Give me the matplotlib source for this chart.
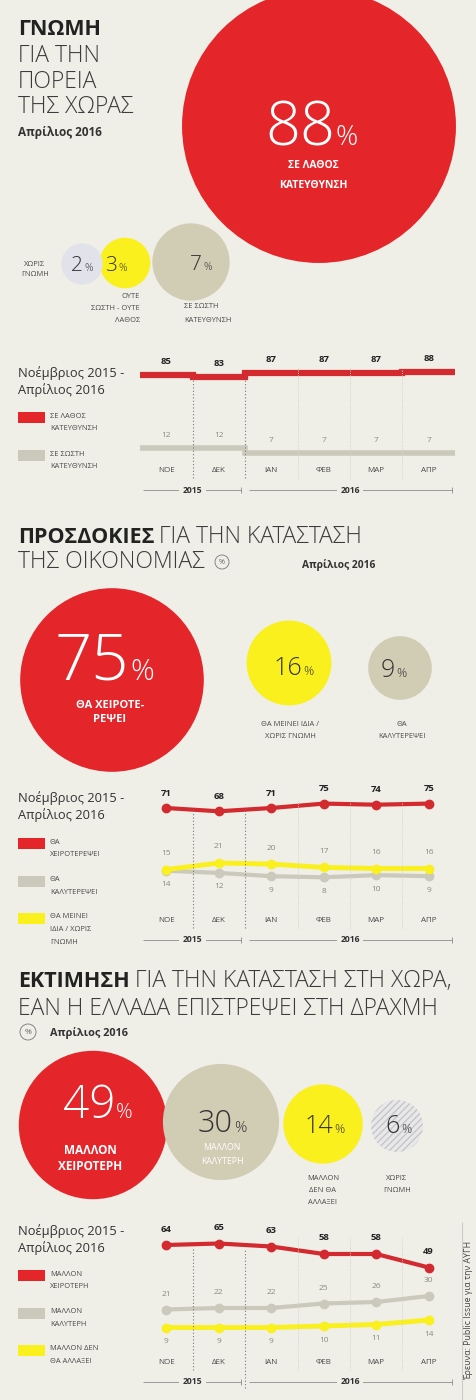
import numpy as np
import matplotlib.pyplot as plt
from matplotlib.patches import Circle, Rectangle

W, H = 477, 1400
plt.rcParams['font.family'] = ['Open Sans', 'DejaVu Sans']

BG = '#EFEEE7'
RED = '#E4252A'
RED_LINE = '#D22A2E'
BEIGE = '#D1CCB4'
GREY_LINE = '#CBC9BC'
YELLOW = '#FAF01E'
DARK = '#222222'
TXT = '#4A4A4A'

# common
months = ['ΝΟΕ', 'ΔΕΚ', 'ΙΑΝ', 'ΦΕΒ', 'ΜΑΡ', 'ΑΠΡ']
years = ['2015', '2016']
period = 'Νοέμβριος 2015 -\nΑπρίλιος 2016'
month_txt = 'Απρίλιος 2016'
source = 'Έρευνα: Public Issue για την ΑΥΓΗ'

# section 1 - direction of the country
s1_values = [88, 7, 3, 2]
s1_labels = ['ΣΕ ΛΑΘΟΣ\nΚΑΤΕΥΘΥΝΣΗ', 'ΣΕ ΣΩΣΤΗ\nΚΑΤΕΥΘΥΝΣΗ', 'ΟΥΤΕ\nΣΩΣΤΗ - ΟΥΤΕ\nΛΑΘΟΣ', 'ΧΩΡΙΣ\nΓΝΩΜΗ']
s1_wrong = [85, 83, 87, 87, 87, 88]
s1_right = [12, 12, 7, 7, 7, 7]

# section 2 - economy expectations
s2_values = [75, 16, 9]
s2_labels = ['ΘΑ ΧΕΙΡΟΤΕ-\nΡΕΨΕΙ', 'ΘΑ ΜΕΙΝΕΙ ΙΔΙΑ /\nΧΩΡΙΣ ΓΝΩΜΗ', 'ΘΑ\nΚΑΛΥΤΕΡΕΨΕΙ']
s2_worse = [71, 68, 71, 75, 74, 75]
s2_same = [15, 21, 20, 17, 16, 16]
s2_better = [14, 12, 9, 8, 10, 9]

# section 3 - return to drachma
s3_values = [49, 30, 14, 6]
s3_labels = ['ΜΑΛΛΟΝ\nΧΕΙΡΟΤΕΡΗ', 'ΜΑΛΛΟΝ\nΚΑΛΥΤΕΡΗ', 'ΜΑΛΛΟΝ\nΔΕΝ ΘΑ\nΑΛΛΑΞΕΙ', 'ΧΩΡΙΣ\nΓΝΩΜΗ']
s3_worse = [64, 65, 63, 58, 58, 49]
s3_better = [21, 22, 22, 25, 26, 30]
s3_same = [9, 9, 9, 10, 11, 14]

BOLD_T, LIGHT_T = 15.5, 16.5

fig = plt.figure(figsize=(W / 100, H / 100), dpi=100)
fig.patch.set_facecolor(BG)
bg = fig.add_axes([0, 0, 1, 1])
bg.set_xlim(0, W)
bg.set_ylim(H, 0)
bg.axis('off')
renderer = fig.canvas.get_renderer()


def lines_text(x, y0, text, dy, **kw):
    for i, line in enumerate(text.split('\n')):
        bg.text(x, y0 + i * dy, line, va='center', **kw)


def bubble(cx, cy, value, k, color, **kw):
    bg.add_patch(Circle((cx, cy), k * np.sqrt(value), facecolor=color, lw=0, **kw))


def pct(x, y, value, size, color, ratio=0.45):
    bg.text(x, y, str(value), fontsize=size, color=color, ha='right', va='baseline', fontweight='light')
    bg.text(x + 1, y, '%', fontsize=size * ratio, color=color, ha='left', va='baseline', fontweight='light')


def title(x, y, bold, rest):
    t = bg.text(x, y, bold, fontsize=BOLD_T, fontweight='bold', color=DARK, va='baseline')
    x1 = t.get_window_extent(renderer).x1
    bg.text(x1 + 5, y, rest, fontsize=LIGHT_T, fontweight='light', color='#3C3C3C', va='baseline')


def light(x, y, text):
    bg.text(x, y, text, fontsize=LIGHT_T, fontweight='light', color='#3C3C3C', va='baseline')


def icon(x, y, r):
    bg.add_patch(Circle((x, y), r, fill=False, lw=0.6, edgecolor='#777777'))
    bg.text(x, y, '%', fontsize=r * 0.75, color='#666666', ha='center', va='center')


def legend(items, y0, dy):
    for i, (color, label) in enumerate(items):
        y = y0 + i * dy
        bg.add_patch(Rectangle((18, y), 27, 11, facecolor=color, lw=0))
        lines_text(50, y + 4, label, 12.5, fontsize=5.4, color=TXT, ha='left')


def chart(top, height, ppu, ref_val, ref_pix):
    ax = fig.add_axes([140 / W, 1 - (top + height) / H, 315 / W, height / H])
    hi = ref_val + (ref_pix - top) / ppu
    ax.set_xlim(-0.5, 5.5)
    ax.set_ylim(hi - height / ppu, hi)
    ax.axis('off')
    ax.patch.set_alpha(0)

    def fy(ypix):
        return (top + height - ypix) / height
    return ax, fy


def frame(ax, fy, div_top, month_y, year_y, long_div=False):
    xt = ax.get_xaxis_transform()
    for xd in [0.5, 1.5]:
        bottom = year_y + 6 if (long_div and xd == 1.5) else month_y + 8
        ax.vlines(xd, fy(bottom), fy(div_top), transform=xt, colors='#777777',
                  linestyles=(0, (1, 2)), lw=0.8)
    for xd in [2.5, 3.5, 4.5]:
        ax.vlines(xd, fy(month_y + 8), fy(div_top - 10), transform=xt, colors='#D4D2C6',
                  linestyles=(0, (1, 1.5)), lw=0.7)
    for i, m in enumerate(months):
        ax.text(i, fy(month_y), m, transform=xt, ha='center', va='center', fontsize=5.8, color=TXT)
    yy = fy(year_y)
    ax.hlines(yy, -0.45, 1.42, transform=xt, color='#8C8C8C', lw=0.6)
    ax.hlines(yy, 1.58, 5.45, transform=xt, color='#8C8C8C', lw=0.6)
    for xe in [1.42, 5.45]:
        ax.vlines(xe, yy - 3 / (ax.bbox.height), yy + 3 / (ax.bbox.height), transform=xt,
                  color='#8C8C8C', lw=0.6)
    for xc, yr in zip([0.5, 3.5], years):
        ax.text(xc, yy, yr, transform=xt, ha='center', va='center', fontsize=6.2, fontweight='bold',
                color='#333333', bbox=dict(fc=BG, ec='none', pad=2.5))


def labels(ax, vals, dy, color, weight='normal', size=6):
    for i, v in enumerate(vals):
        ax.annotate(str(v), (i, v), xytext=(0, dy), textcoords='offset pixels', ha='center',
                    va='center', fontsize=size, color=color, fontweight=weight)


def period_text(y):
    a, b = period.split('\n')
    bg.text(18, y, a, fontsize=9.3, color='#333333', va='center')
    bg.text(18, y + 17, b, fontsize=9.3, color='#333333', va='center')


# ---------------- section 1 ----------------
bg.text(18, 35, 'ΓΝΩΜΗ', fontsize=BOLD_T, fontweight='bold', color=DARK, va='baseline')
for yb, line in zip([62, 88, 113], ['ΓΙΑ ΤΗΝ', 'ΠΟΡΕΙΑ', 'ΤΗΣ ΧΩΡΑΣ']):
    light(18, yb, line)
bg.text(18, 136, month_txt, fontsize=8.5, fontweight='bold', color='#333333', va='baseline')

k1 = 14.6
s1_centers = [(319, 126), (191, 262), (125, 263), (82, 264)]
s1_colors = [RED, BEIGE, YELLOW, '#E2E2EA']
for (cx, cy), v, c in zip(s1_centers, s1_values, s1_colors):
    bubble(cx, cy, v, k1, c)
pct(335, 145, s1_values[0], 44, 'white')
pct(202, 270, s1_values[1], 15, '#333333', 0.5)
pct(117, 271, s1_values[2], 15, '#333333', 0.5)
pct(83, 271, s1_values[3], 15, '#333333', 0.5)
lines_text(313, 166, s1_labels[0], 19, fontsize=7.5, fontweight='bold', color='white', ha='center')
lines_text(184, 307, s1_labels[1], 13, fontsize=5.4, color=TXT, ha='left')
lines_text(140, 297, s1_labels[2], 12, fontsize=5.4, color=TXT, ha='right')
lines_text(35, 264, s1_labels[3], 10, fontsize=5.4, color=TXT, ha='center')

period_text(373)
legend([(RED, s1_labels[0]), (GREY_LINE, s1_labels[1])], 412, 38)

ax1, fy1 = chart(350, 150, 1.0, 85, 375)
ax1.stairs(s1_wrong, np.arange(7) - 0.5, baseline=None, color=RED_LINE, lw=4.5)
ax1.stairs(s1_right, np.arange(7) - 0.5, baseline=None, color=GREY_LINE, lw=4)
labels(ax1, s1_wrong, 14, DARK, 'bold', 6.8)
labels(ax1, s1_right, 13, '#8C8A80', 'normal', 6)
frame(ax1, fy1, 378, 470, 490)

# ---------------- section 2 ----------------
title(18, 543, 'ΠΡΟΣΔΟΚΙΕΣ', 'ΓΙΑ ΤΗΝ ΚΑΤΑΣΤΑΣΗ')
light(18, 568, 'ΤΗΣ ΟΙΚΟΝΟΜΙΑΣ')
icon(222, 562, 7)
bg.text(302, 568, month_txt, fontsize=7.4, fontweight='bold', color='#333333', va='baseline')

k2 = 10.6
s2_centers = [(112, 680), (289, 663), (400, 668)]
for (cx, cy), v, c in zip(s2_centers, s2_values, [RED, YELLOW, BEIGE]):
    bubble(cx, cy, v, k2, c)
pct(129, 680, s2_values[0], 47, 'white')
pct(302, 675, s2_values[1], 18, '#333333', 0.5)
pct(395, 677, s2_values[2], 18, '#333333', 0.5)
lines_text(110, 705, s2_labels[0], 14, fontsize=8, fontweight='bold', color='white', ha='center')
lines_text(290, 725, s2_labels[1], 11, fontsize=5.4, color=TXT, ha='center')
lines_text(402, 725, s2_labels[2], 12, fontsize=5.4, color=TXT, ha='center')

period_text(798)
legend([(RED, 'ΘΑ\nΧΕΙΡΟΤΕΡΕΨΕΙ'), (GREY_LINE, 'ΘΑ\nΚΑΛΥΤΕΡΕΨΕΙ'),
        (YELLOW, 'ΘΑ ΜΕΙΝΕΙ\nΙΔΙΑ / ΧΩΡΙΣ\nΓΝΩΜΗ')], 838, 37.5)

ax2, fy2 = chart(780, 165, 1.1, 71, 808)
x = np.arange(len(months))
ax2.plot(x, s2_better, color=GREY_LINE, lw=3, marker='o', ms=6)
ax2.plot(x, s2_same, color=YELLOW, lw=3.5, marker='o', ms=6)
ax2.plot(x, s2_worse, color=RED_LINE, lw=3, marker='o', ms=6)
labels(ax2, s2_worse, 15, DARK, 'bold', 6.8)
labels(ax2, s2_same, 16, '#8C8A80', 'normal', 6)
labels(ax2, s2_better, -14, '#8C8A80', 'normal', 6)
frame(ax2, fy2, 810, 920, 940)

# ---------------- section 3 ----------------
title(18, 987, 'ΕΚΤΙΜΗΣΗ', 'ΓΙΑ ΤΗΝ ΚΑΤΑΣΤΑΣΗ ΣΤΗ ΧΩΡΑ,')
light(18, 1015, 'ΕΑΝ Η ΕΛΛΑΔΑ ΕΠΙΣΤΡΕΨΕΙ ΣΤΗ ΔΡΑΧΜΗ')
icon(28, 1032, 8)
bg.text(50, 1036, month_txt, fontsize=7.8, fontweight='bold', color='#333333', va='baseline')

s3_centers = [(93, 1125), (221, 1122), (323, 1124), (397, 1126)]
for (cx, cy), v, c in zip(s3_centers[:3], s3_values[:3], [RED, BEIGE, YELLOW]):
    bubble(cx, cy, v, k2, c)
bubble(*s3_centers[3], s3_values[3], k2, '#E8E8EB', edgecolor='#C6C6C6', hatch='/////')
pct(115, 1118, s3_values[0], 33, 'white')
pct(233, 1132, s3_values[1], 22, '#333333', 0.5)
pct(333, 1133, s3_values[2], 18, '#333333', 0.5)
pct(400, 1133, s3_values[3], 18, '#333333', 0.5)
lines_text(90, 1150, s3_labels[0], 17, fontsize=8.5, fontweight='bold', color='white', ha='center')
lines_text(222, 1148, s3_labels[1], 13, fontsize=6.3, color='white', ha='center')
lines_text(323, 1178, s3_labels[2], 12.5, fontsize=5.4, color=TXT, ha='center')
lines_text(397, 1178, s3_labels[3], 12, fontsize=5.4, color=TXT, ha='center')

period_text(1231)
legend([(RED, s3_labels[0]), (GREY_LINE, s3_labels[1]), (YELLOW, 'ΜΑΛΛΟΝ ΔΕΝ\nΘΑ ΑΛΛΑΞΕΙ')], 1270, 37.5)

ax3, fy3 = chart(1215, 175, 1.5, 64, 1245)
ax3.plot(x, s3_same, color=YELLOW, lw=3.5, marker='o', ms=6)
ax3.plot(x, s3_better, color=GREY_LINE, lw=3, marker='o', ms=6)
ax3.plot(x, s3_worse, color=RED_LINE, lw=3, marker='o', ms=6)
labels(ax3, s3_worse, 16, DARK, 'bold', 6.8)
labels(ax3, s3_better, 15, '#8C8A80', 'normal', 6)
labels(ax3, s3_same, -14, '#8C8A80', 'normal', 6)
frame(ax3, fy3, 1248, 1362, 1382, long_div=True)

# source
bg.vlines(462, 1222, 1400, color='#CCCCCC', lw=0.8)
bg.text(469, 1310, source, rotation=90, fontsize=6.3, color='#444444', ha='center', va='center')

fig.savefig('out.png', dpi=100, facecolor=BG)
